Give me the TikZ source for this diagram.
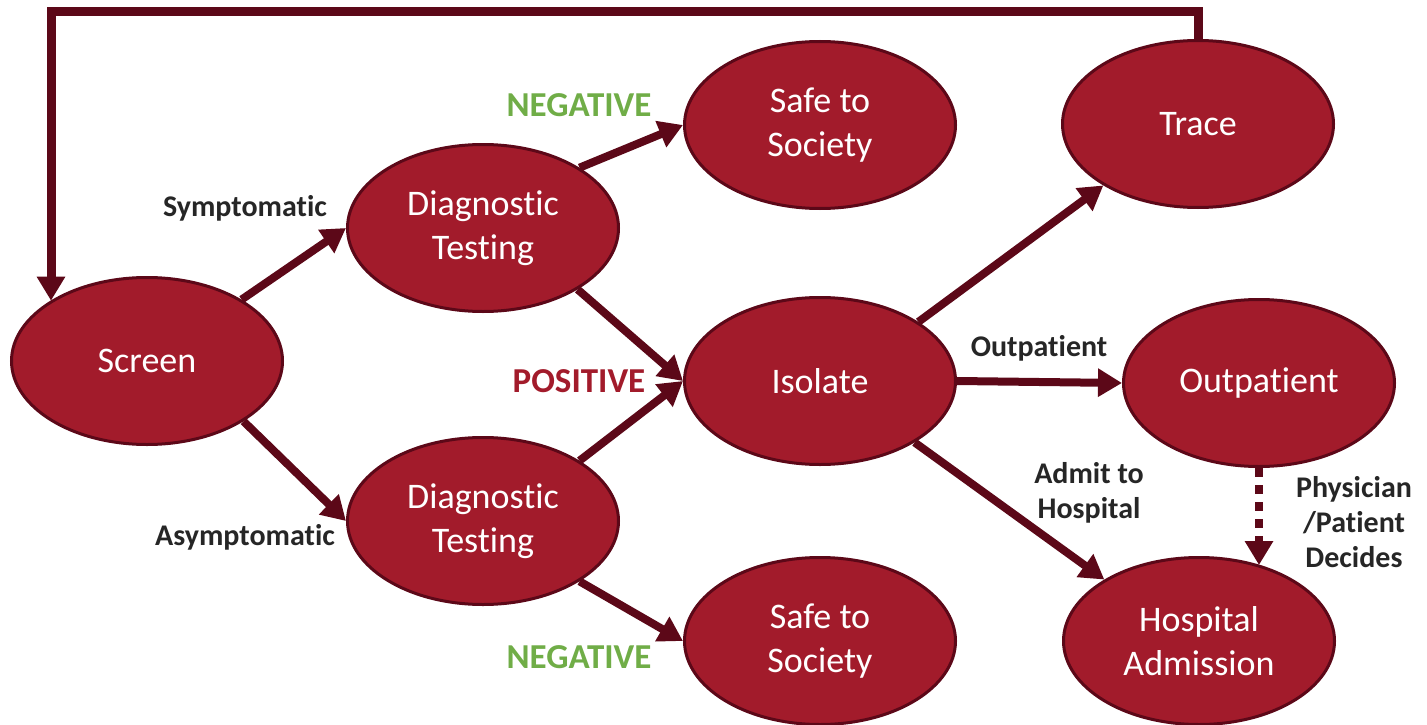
\documentclass[tikz,border=0pt]{standalone}
\usepackage{fontspec}
\setmainfont[Ligatures=NoCommon]{Carlito}
\usetikzlibrary{shapes.geometric,arrows.meta}

\definecolor{boxred}{HTML}{A21B2B}
\definecolor{darkred}{HTML}{5C0818}
\definecolor{labelgray}{HTML}{262626}
\definecolor{neggreen}{HTML}{70AD47}

\begin{document}
\begin{tikzpicture}[x=1pt, y=-1pt,
  stage/.style={ellipse, draw=darkred, line width=3pt, fill=boxred, text=white,
    minimum width=271pt, minimum height=167pt, inner sep=0pt, align=center,
    font=\fontsize{36}{44}\selectfont},
  flow/.style={draw=darkred, line width=8pt, -{Triangle[width=27pt,length=24pt]}},
  tag/.style={font=\fontsize{30}{35}\selectfont\bfseries, text=labelgray, align=center},
  result/.style={font=\fontsize{35}{42}\selectfont\bfseries}]
  \useasboundingbox (0,0) rectangle (1427,725);

  % Stages
  \node[stage] (screen)   at (147,361)  {Screen};
  \node[stage] (diagtop)  at (483,228)  {Diagnostic\\Testing};
  \node[stage] (diagbot)  at (483,521)  {Diagnostic\\Testing};
  \node[stage] (safetop)  at (820,125)  {Safe to\\Society};
  \node[stage] (isolate)  at (820,381)  {Isolate};
  \node[stage] (safebot)  at (820,641)  {Safe to\\Society};
  \node[stage] (trace)    at (1198,124) {Trace};
  \node[stage] (outpat)   at (1259,383) {Outpatient};
  \node[stage] (hospital) at (1199,641) {Hospital\\Admission};

  % Labels
  \node[tag] (symlbl)  at (245,208)  {Symptomatic};
  \node[tag] (asymlbl) at (245,537)  {Asymptomatic};
  \node[tag] (outlbl)  at (1039,348) {Outpatient};
  \node[tag] (admlbl)  at (1089,493) {Admit to\\Hospital};
  \node[tag] (declbl)  at (1354,522) {Physician\\/Patient\\Decides};
  \node[result, text=neggreen] (negtop) at (579,105) {NEGATIVE};
  \node[result, text=boxred]   (poslbl) at (579,381) {POSITIVE};
  \node[result, text=neggreen] (negbot) at (579,657) {NEGATIVE};

  % Arrows
  \draw[flow] (screen.33) -- (diagtop.west);
  \draw[flow] (screen.-32) -- (diagbot.west);
  \draw[flow] (diagtop.32) -- (safetop.west);
  \draw[flow] (diagtop.-33) -- (isolate.west);
  \draw[flow] (diagbot.32) -- (isolate.west);
  \draw[flow] (diagbot.-32) -- (safebot.west);
  \draw[flow] (isolate.31) -- (trace.-147);
  \draw[flow] (isolate.east) -- (outpat.west);
  \draw[flow] (isolate.-33) -- (hospital.147);
  \draw[flow, dash pattern=on 9pt off 8pt] (outpat.south) -- (outpat.south |- hospital.51);

  % Back to screen
  \coordinate (loopcorner) at (51,12);
  \draw[flow, line width=9pt] (trace.north) |- (loopcorner) -- (loopcorner |- screen.148);
\end{tikzpicture}
\end{document}
